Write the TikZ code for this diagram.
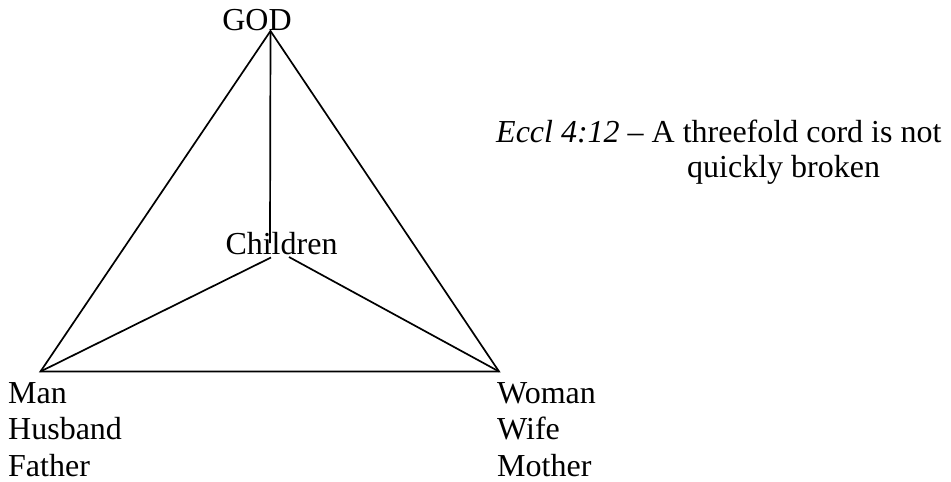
\documentclass[tikz,border=0pt]{standalone}
\usepackage{fontspec}
\setmainfont{Liberation Serif}
\begin{document}
\begin{tikzpicture}[x=1pt,y=-1pt,
  lbl/.style={inner sep=0pt, font=\fontsize{32}{36.8}\selectfont},
  cord/.style={line width=1.7pt, line join=miter}]
\useasboundingbox (0,0) rectangle (951,482);
% corners of the triangle
\coordinate (apex) at (270.5,31);
\coordinate (mancorner) at (40.5,371.5);
\coordinate (womancorner) at (499,371.5);
\coordinate (hubtop) at (270,243);
\coordinate (hubL) at (271,257.5);
\coordinate (hubR) at (289,257);
% labels
\node[lbl, anchor=base] (god) at (257,30) {GOD};
\node[lbl, anchor=base] (children) at (281.5,254.5) {Children};
\node[lbl, anchor=base west] (man) at (8,403) {Man};
\node[lbl, anchor=base west] (husband) at (8,439.5) {Husband};
\node[lbl, anchor=base west] (father) at (8,476) {Father};
\node[lbl, anchor=base west] (woman) at (497,403) {Woman};
\node[lbl, anchor=base west] (wife) at (497,439.5) {Wife};
\node[lbl, anchor=base west] (mother) at (497,476) {Mother};
\node[lbl, anchor=base west] (verse1) at (496,142) {\itshape Eccl 4:12\upshape{} – A threefold cord is not};
\node[lbl, anchor=base west] (verse2) at (687,177.5) {quickly broken};
% connectors
\draw[cord] (apex) -- (mancorner) -- (womancorner) -- cycle;
\draw[cord] (apex) -- (hubtop);
\draw[cord] (hubL) -- (mancorner);
\draw[cord] (hubR) -- (womancorner);
\end{tikzpicture}
\end{document}
